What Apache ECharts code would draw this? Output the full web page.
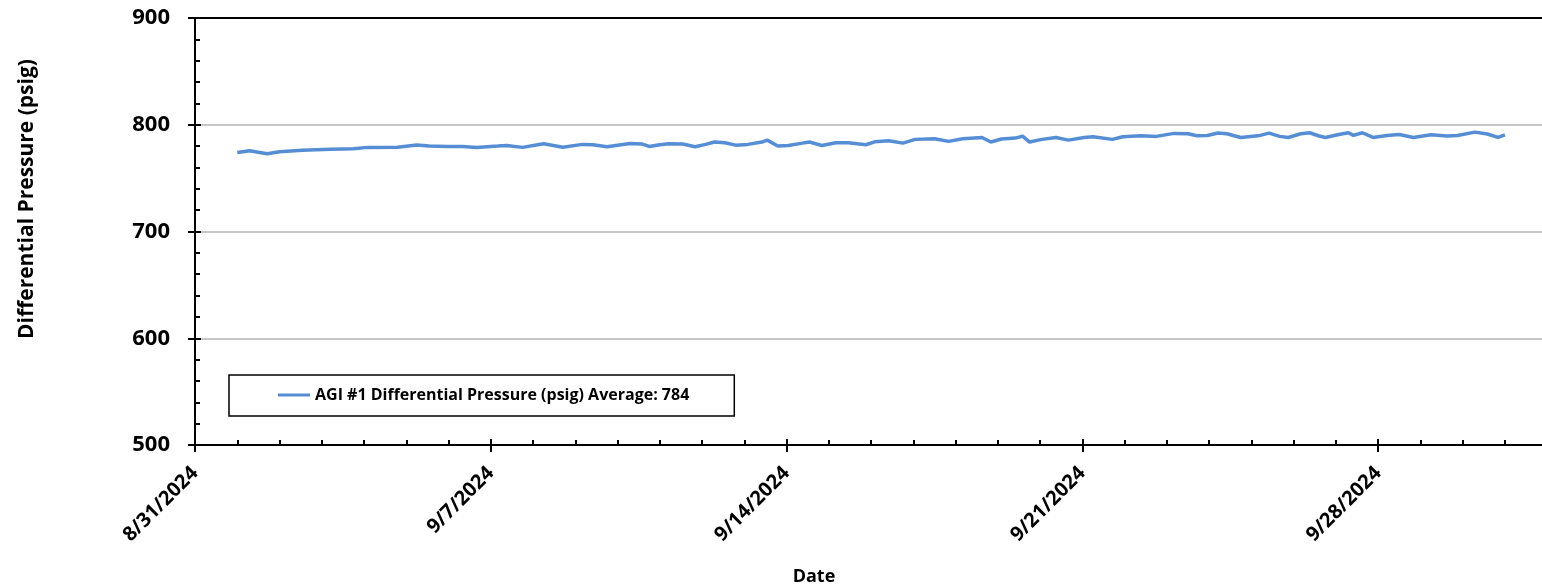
<!DOCTYPE html>
<html>
<head>
<meta charset="utf-8">
<script src="https://cdn.jsdelivr.net/npm/echarts@6/dist/echarts.min.js"></script>
<style>
html,body{margin:0;padding:0;background:#fff;}
#chart{width:1542px;height:587px;}
</style>
</head>
<body>
<div id="chart"></div>
<script>
// Timestamps (UTC, hourly resolution) and readings
const times = [
'2024-09-01T00:00','2024-09-01T07:00','2024-09-01T17:00','2024-09-02T00:00','2024-09-02T13:00',
'2024-09-03T05:00','2024-09-03T18:00','2024-09-04T02:00','2024-09-04T19:00','2024-09-05T06:00',
'2024-09-05T13:00','2024-09-05T23:00','2024-09-06T08:00','2024-09-06T16:00','2024-09-07T04:00',
'2024-09-07T09:00','2024-09-07T18:00','2024-09-08T06:00','2024-09-08T17:00','2024-09-09T04:00',
'2024-09-09T10:00','2024-09-09T18:00','2024-09-10T07:00','2024-09-10T14:00','2024-09-10T18:00',
'2024-09-11T00:00','2024-09-11T05:00','2024-09-11T13:00','2024-09-11T20:00','2024-09-12T02:00',
'2024-09-12T07:00','2024-09-12T13:00','2024-09-12T19:00','2024-09-13T02:00','2024-09-13T10:00',
'2024-09-13T13:00','2024-09-13T19:00','2024-09-14T01:00','2024-09-14T09:00','2024-09-14T13:00',
'2024-09-14T20:00','2024-09-15T04:00','2024-09-15T11:00','2024-09-15T21:00','2024-09-16T02:00',
'2024-09-16T10:00','2024-09-16T18:00','2024-09-17T01:00','2024-09-17T12:00','2024-09-17T20:00',
'2024-09-18T04:00','2024-09-18T15:00','2024-09-18T20:00','2024-09-19T02:00','2024-09-19T10:00',
'2024-09-19T14:00','2024-09-19T18:00','2024-09-20T01:00','2024-09-20T09:00','2024-09-20T16:00',
'2024-09-21T01:00','2024-09-21T06:00','2024-09-21T17:00','2024-09-21T23:00','2024-09-22T09:00',
'2024-09-22T18:00','2024-09-23T04:00','2024-09-23T12:00','2024-09-23T17:00','2024-09-23T23:00',
'2024-09-24T05:00','2024-09-24T10:00','2024-09-24T18:00','2024-09-25T05:00','2024-09-25T10:00',
'2024-09-25T16:00','2024-09-25T21:00','2024-09-26T04:00','2024-09-26T09:00','2024-09-26T14:00',
'2024-09-26T18:00','2024-09-27T01:00','2024-09-27T07:00','2024-09-27T10:00','2024-09-27T15:00',
'2024-09-27T21:00','2024-09-28T05:00','2024-09-28T12:00','2024-09-28T20:00','2024-09-29T06:00',
'2024-09-29T15:00','2024-09-29T21:00','2024-09-30T07:00','2024-09-30T14:00','2024-09-30T20:00',
'2024-10-01T00:00'
];
const pressure = [
774.0,775.6,772.8,774.7,776.0,
777.0,777.5,778.8,779.0,781.0,
780.0,779.7,779.7,778.8,780.0,
780.6,778.8,782.2,779.0,781.6,
781.3,779.4,782.5,781.9,779.7,
781.3,782.2,781.9,779.4,781.6,
783.8,783.1,780.9,781.6,783.8,
785.6,780.0,780.6,782.8,783.8,
780.6,783.1,783.1,781.3,784.0,
785.0,782.8,786.3,786.9,784.4,
786.9,788.1,783.8,786.6,787.5,
789.4,783.8,786.3,788.1,785.6,
788.0,788.8,786.3,788.8,789.7,
789.1,791.9,791.6,789.7,790.0,
792.2,791.6,788.1,790.0,792.2,
789.1,788.1,791.6,792.5,789.7,
788.1,790.6,792.5,790.0,792.5,
788.1,790.0,790.9,788.1,790.6,
789.4,790.0,793.1,791.3,788.1,
790.6
];
const seriesName = 'AGI #1 Differential Pressure (psig) Average: 784';
const yTitle = 'Differential Pressure (psig)';
const xTitle = 'Date';
const axisStartDate = '2024-08-31T00:00';
const axisDays = 35;   // axis span in days
const tickDays = 7;    // major tick spacing in days

const DAY = 86400000;
const base = Date.parse(axisStartDate + ':00Z');
const seriesData = times.map((t, i) => [(Date.parse(t + ':00Z') - base) / DAY, pressure[i]]);
function fmtDate(v) {
  const d = new Date(base + v * DAY);
  return (d.getUTCMonth() + 1) + '/' + d.getUTCDate() + '/' + d.getUTCFullYear();
}

const FONT = '"Open Sans", sans-serif';
const BLACK = '#000';
const chart = echarts.init(document.getElementById('chart'), null, {renderer: 'canvas'});
chart.setOption({
  animation: false,
  backgroundColor: '#fff',
  grid: {left: 195, top: 18, right: -132, bottom: 142, containLabel: false, outerBoundsMode: 'none', show: false},
  legend: {
    left: 229, top: 375,
    padding: [12, 45, 13, 49],
    backgroundColor: '#fff', borderColor: BLACK, borderWidth: 1.5, borderRadius: 0,
    icon: 'rect', itemWidth: 32, itemHeight: 3, itemGap: 0,
    textStyle: {fontFamily: FONT, fontWeight: 'bold', fontSize: 16, color: BLACK},
    data: [seriesName]
  },
  xAxis: [
    {
      type: 'value', min: 0, max: axisDays, interval: tickDays, position: 'bottom',
      axisLine: {show: true, onZero: false, lineStyle: {color: BLACK, width: 2}},
      axisTick: {show: true, inside: false, length: 7, lineStyle: {color: BLACK, width: 2}},
      minorTick: {show: false},
      splitLine: {show: false},
      axisLabel: {rotate: 45, margin: 25, formatter: fmtDate, fontFamily: FONT, fontWeight: 'bold', fontSize: 20, color: BLACK}
    },
    {
      type: 'value', min: 0, max: axisDays, interval: tickDays, position: 'bottom',
      axisLine: {show: true, onZero: false, lineStyle: {color: BLACK, width: 2}},
      axisTick: {show: true, inside: true, length: 6, lineStyle: {color: BLACK, width: 2}},
      minorTick: {show: true, splitNumber: 7, length: 5, lineStyle: {color: BLACK, width: 2}},
      splitLine: {show: false},
      axisLabel: {show: false}
    },
    {
      type: 'value', min: 0, max: axisDays, interval: tickDays, position: 'top',
      axisLine: {show: true, onZero: false, lineStyle: {color: BLACK, width: 2}},
      axisTick: {show: false}, minorTick: {show: false},
      splitLine: {show: false}, axisLabel: {show: false}, z: 5
    }
  ],
  yAxis: [
    {
      type: 'value', min: 500, max: 900, interval: 100, position: 'left',
      axisLine: {show: true, onZero: false, lineStyle: {color: BLACK, width: 2}},
      axisTick: {show: true, inside: false, length: 7, lineStyle: {color: BLACK, width: 2}},
      minorTick: {show: false},
      splitLine: {show: true, lineStyle: {color: '#b3b3b3', width: 1.5}},
      axisLabel: {margin: 25, fontFamily: FONT, fontWeight: 'bold', fontSize: 22, color: BLACK}
    },
    {
      type: 'value', min: 500, max: 900, interval: 100, position: 'left',
      axisLine: {show: true, onZero: false, lineStyle: {color: BLACK, width: 2}},
      axisTick: {show: true, inside: true, length: 6, lineStyle: {color: BLACK, width: 2}},
      minorTick: {show: true, splitNumber: 5, length: 5, lineStyle: {color: BLACK, width: 2}},
      splitLine: {show: false},
      axisLabel: {show: false}
    }
  ],
  graphic: [
    {type: 'text', x: 27, y: 199, rotation: Math.PI / 2,
     style: {text: yTitle, fontFamily: FONT, fontWeight: 'bold', fontSize: 21, fill: BLACK, align: 'center', verticalAlign: 'middle'}},
    {type: 'text', x: 814, y: 577,
     style: {text: xTitle, fontFamily: FONT, fontWeight: 'bold', fontSize: 18, fill: BLACK, align: 'center', verticalAlign: 'middle'}}
  ],
  series: [{
    name: seriesName, type: 'line', xAxisIndex: 0, yAxisIndex: 0,
    data: seriesData, showSymbol: false, symbol: 'none',
    lineStyle: {color: '#558ED5', width: 3.5},
    itemStyle: {color: '#558ED5'},
    z: 3
  }]
});
</script>
</body>
</html>
